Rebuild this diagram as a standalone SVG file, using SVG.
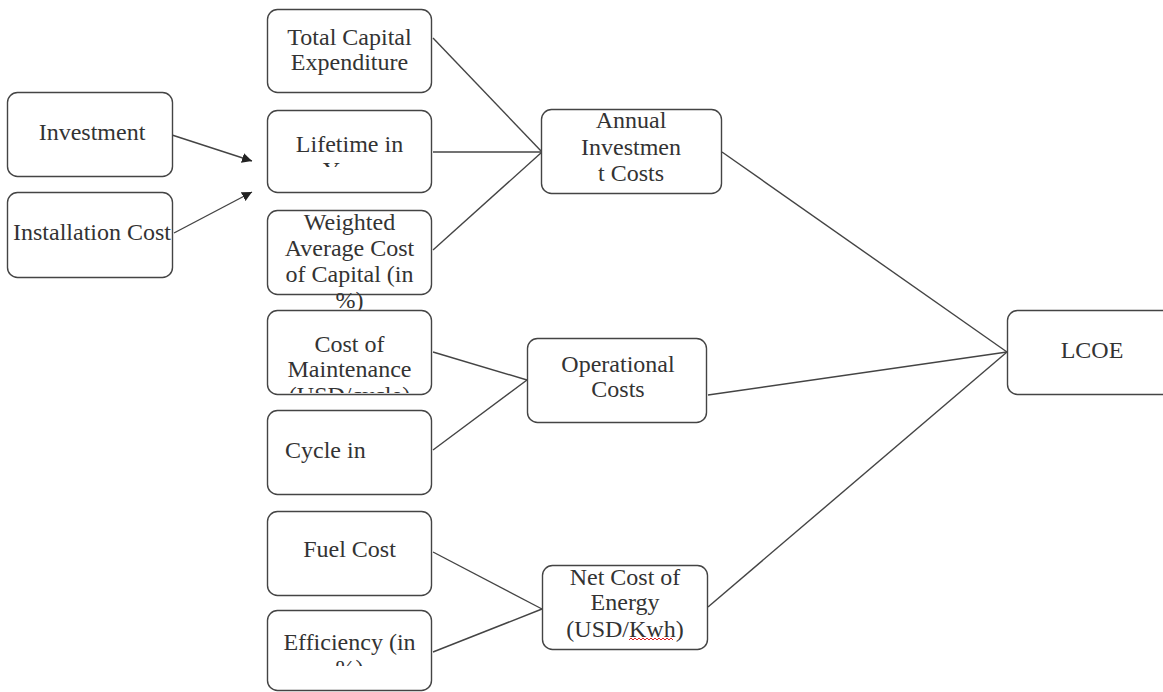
<svg xmlns="http://www.w3.org/2000/svg" width="1163" height="692" viewBox="0 0 1163 692">
<style>
.box{fill:#fff;stroke:#444;stroke-width:1.4}
.t{font-family:"Liberation Serif","Times New Roman",serif;font-size:24px;fill:#333;text-anchor:middle}
.c{stroke:#444;stroke-width:1.4;fill:none}
</style>
<defs>
<marker id="arr" viewBox="0 0 10 10" refX="10" refY="5" markerWidth="10" markerHeight="10" markerUnits="userSpaceOnUse" orient="auto">
<path d="M0,0 L10,5 L0,10 z" fill="#222"/>
</marker>
<clipPath id="clipLife"><rect x="267" y="110" width="165" height="57"/></clipPath>
<clipPath id="clipMaint"><rect x="267" y="310" width="165" height="83"/></clipPath>
<clipPath id="clipEff"><rect x="267" y="610" width="165" height="56"/></clipPath>
</defs>
<rect width="1163" height="692" fill="#fff"/>
<g id="connectors">
<line class="c" x1="172" y1="135" x2="252" y2="161" marker-end="url(#arr)"/>
<line class="c" x1="174" y1="233" x2="252" y2="192" marker-end="url(#arr)"/>
<line class="c" x1="433" y1="38" x2="542" y2="152"/>
<line class="c" x1="433" y1="152" x2="542" y2="152"/>
<line class="c" x1="433" y1="250" x2="542" y2="152"/>
<line class="c" x1="433" y1="352" x2="527" y2="380"/>
<line class="c" x1="433" y1="450" x2="527" y2="380"/>
<line class="c" x1="433" y1="552" x2="542" y2="609"/>
<line class="c" x1="433" y1="652" x2="542" y2="609"/>
<line class="c" x1="722" y1="152" x2="1007" y2="352"/>
<line class="c" x1="708" y1="395" x2="1007" y2="352"/>
<line class="c" x1="708" y1="607" x2="1007" y2="352"/>
</g>
<g id="investment">
<rect class="box" x="7.5" y="92.5" width="165" height="84" rx="10"/>
<text class="t" x="92" y="140">Investment</text>
</g>
<g id="installation">
<rect class="box" x="7.5" y="192.5" width="165" height="85" rx="10"/>
<text class="t" x="92" y="240">Installation Cost</text>
</g>
<g id="capex">
<rect class="box" x="267.5" y="9.5" width="164" height="83" rx="10"/>
<text class="t" x="349.5" y="45">Total Capital</text>
<text class="t" x="349.5" y="70">Expenditure</text>
</g>
<g id="lifetime">
<rect class="box" x="267.5" y="110.5" width="164" height="82" rx="10"/>
<text class="t" x="349.5" y="152">Lifetime in</text>
<text class="t" x="349.5" y="178" clip-path="url(#clipLife)">Years</text>
</g>
<g id="wacc">
<rect class="box" x="267.5" y="210.5" width="164" height="84" rx="10"/>
<text class="t" x="349.5" y="230">Weighted</text>
<text class="t" x="349.5" y="256">Average Cost</text>
<text class="t" x="349.5" y="282">of Capital (in</text>
<text class="t" x="349.5" y="308">%)</text>
</g>
<g id="maintenance">
<rect class="box" x="267.5" y="310.5" width="164" height="84" rx="10"/>
<text class="t" x="349.5" y="352">Cost of</text>
<text class="t" x="349.5" y="377">Maintenance</text>
<text class="t" x="349.5" y="403" clip-path="url(#clipMaint)">(USD/cycle)</text>
</g>
<g id="cycle">
<rect class="box" x="267.5" y="410.5" width="164" height="84" rx="10"/>
<text class="t" x="285" y="458" style="text-anchor:start">Cycle in</text>
</g>
<g id="fuel">
<rect class="box" x="267.5" y="511.5" width="164" height="84" rx="10"/>
<text class="t" x="349.5" y="557">Fuel Cost</text>
</g>
<g id="efficiency">
<rect class="box" x="267.5" y="610.5" width="164" height="80" rx="10"/>
<text class="t" x="349.5" y="650">Efficiency (in</text>
<text class="t" x="349.5" y="676" clip-path="url(#clipEff)">%)</text>
</g>
<g id="annual">
<rect class="box" x="541.5" y="109.5" width="180" height="84" rx="10"/>
<text class="t" x="631" y="128">Annual</text>
<text class="t" x="631" y="155">Investmen</text>
<text class="t" x="631" y="181">t Costs</text>
</g>
<g id="operational">
<rect class="box" x="527.5" y="338.5" width="179" height="84" rx="10"/>
<text class="t" x="618" y="372">Operational</text>
<text class="t" x="618" y="397">Costs</text>
</g>
<g id="netcost">
<rect class="box" x="542.5" y="565.5" width="165" height="84" rx="10"/>
<text class="t" x="625" y="585">Net Cost of</text>
<text class="t" x="625" y="610">Energy</text>
<text class="t" x="625" y="637">(USD/Kwh)</text>
<path d="M629,640 l2,-2 l2,2 l2,-2 l2,2 l2,-2 l2,2 l2,-2 l2,2 l2,-2 l2,2 l2,-2 l2,2 l2,-2 l2,2 l2,-2 l2,2 l2,-2 l2,2 l2,-2 l2,2 l2,-2 l2,2" fill="none" stroke="#e02020" stroke-width="1"/>
</g>
<g id="lcoe">
<rect class="box" x="1007.5" y="310.5" width="170" height="84" rx="10"/>
<text class="t" x="1092" y="358">LCOE</text>
</g>
</svg>
